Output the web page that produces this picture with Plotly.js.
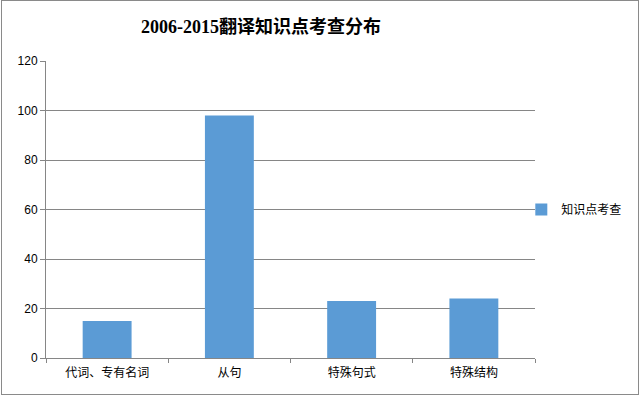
<!DOCTYPE html>
<html>
<head>
<meta charset="utf-8">
<script src="https://cdn.plot.ly/plotly-3.0.1.min.js"></script>
<style>
html,body{margin:0;padding:0;background:#fff;}
#chart{position:absolute;left:0;top:0;width:640px;height:396px;}
#frame{position:absolute;left:1px;top:0px;width:638px;height:395px;box-sizing:border-box;border:1px solid #8a8a8a;pointer-events:none;}
</style>
</head>
<body>
<div id="chart"></div>
<div id="frame"></div>
<script>
const categories = ["代词、专有名词", "从句", "特殊句式", "特殊结构"];
const values = [15, 98, 23, 24];
const seriesName = "知识点考查";
const yTicks = [0, 20, 40, 60, 80, 100, 120];

const fontFam = "Liberation Sans, Noto Sans CJK SC, sans-serif";

Plotly.newPlot('chart', [{
  type: 'bar',
  x: categories,
  y: values,
  name: seriesName,
  marker: {color: '#5B9BD5'},
  showlegend: true
}], {
  width: 640, height: 396,
  margin: {l: 46, r: 105, t: 61, b: 38},
  paper_bgcolor: '#fff', plot_bgcolor: '#fff',
  bargap: 0.6,
  title: {
    text: "2006-2015翻译知识点考查分布",
    font: {family: "Liberation Serif, Noto Sans CJK SC, serif", size: 18, color: '#000', weight: 'bold'},
    x: 261/640, xanchor: 'center', y: 1 - 27/396, yanchor: 'middle'
  },
  font: {family: fontFam, size: 12, color: '#000'},
  xaxis: {
    type: 'category',
    tickson: 'boundaries',
    ticks: 'outside', ticklen: 4, tickcolor: '#868686',
    ticklabelstandoff: 4,
    showline: true, linecolor: '#868686', linewidth: 1,
    showgrid: false,
    tickfont: {family: fontFam, size: 12, color: '#000'}
  },
  yaxis: {
    range: [0, 120],
    tickvals: yTicks,
    ticktext: yTicks.map(String),
    ticks: 'outside', ticklen: 5, tickcolor: '#868686',
    showline: true, linecolor: '#868686', linewidth: 1,
    showgrid: true, gridcolor: '#868686', gridwidth: 1,
    zeroline: false,
    tickfont: {family: fontFam, size: 12, color: '#000'}
  },
  legend: {
    x: 0.972, xanchor: 'left', y: 0.5, yanchor: 'middle',
    font: {family: fontFam, size: 12, color: '#000'},
    bgcolor: 'rgba(0,0,0,0)', itemwidth: 30
  }
}, {displayModeBar: false, staticPlot: true});
</script>
</body>
</html>
